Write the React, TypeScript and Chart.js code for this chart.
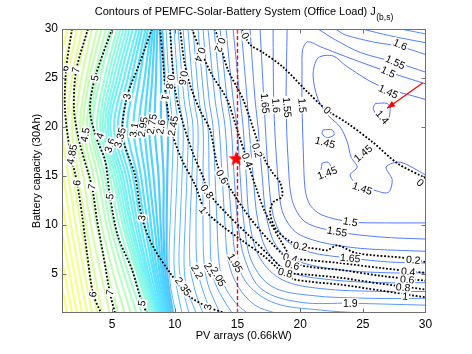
import React, { useEffect, useRef } from "react";
import { Chart, registerables } from "chart.js";

Chart.register(...registerables);

const FONT = '"Liberation Sans", Arial, Helvetica, sans-serif';

const TITLE_MAIN = "Contours of PEMFC-Solar-Battery System (Office Load) J";
const TITLE_SUB = "(b,s)";
const X_LABEL = "PV arrays (0.66kW)";
const Y_LABEL = "Battery capacity (30Ah)";

const X_MIN = 1;
const X_MAX = 30;
const Y_MIN = 1;
const Y_MAX = 30;
const X_TICKS = [5, 10, 15, 20, 25, 30];
const Y_TICKS = [5, 10, 15, 20, 25, 30];

// Dense J(b,s) contours on the left: x position of each level at the rows of ROW_Y
const ROW_Y = [30, 25, 20, 15, 10, 5, 1];
const DENSE_LEVELS = [5.6, 5.5, 5.4, 5.3, 5.2, 5.1, 5.0, 4.9, 4.8, 4.7, 4.6, 4.5, 4.4, 4.3, 4.2, 4.1, 4.0, 3.9, 3.8, 3.7, 3.6, 3.5, 3.4, 3.3, 3.2, 3.1, 3.0, 2.9, 2.8, 2.7, 2.6, 2.5];
const DENSE_X = [
  [-0.2, -1.0, -1.4, -0.9, -0.3, 0.4, 1.0],
  [0.2, -0.6, -1.0, -0.5, 0.1, 0.8, 1.4],
  [0.6, -0.2, -0.6, -0.1, 0.5, 1.2, 1.8],
  [1.0, 0.2, -0.2, 0.3, 0.9, 1.6, 2.2],
  [1.4, 0.6, 0.2, 0.7, 1.3, 2.0, 2.6],
  [1.8, 1.0, 0.6, 1.1, 1.7, 2.4, 3.0],
  [2.2, 1.4, 1.0, 1.5, 2.1, 2.8, 3.4],
  [2.6, 1.8, 1.4, 1.9, 2.5, 3.2, 3.8],
  [3.0, 2.2, 1.8, 2.3, 2.9, 3.6, 4.2],
  [3.4, 2.55, 2.1, 2.7, 3.3, 4.1, 4.8],
  [3.8, 2.95, 2.45, 3.15, 3.75, 4.65, 5.45],
  [4.15, 3.2, 2.7, 3.5, 4.15, 5.1, 6.0],
  [4.5, 3.55, 3.0, 3.85, 4.55, 5.55, 6.5],
  [4.8, 3.8, 3.25, 4.15, 4.85, 5.95, 6.95],
  [5.05, 4.05, 3.45, 4.4, 5.15, 6.3, 7.35],
  [5.4, 4.4, 3.8, 4.8, 5.55, 6.7, 7.8],
  [5.65, 4.65, 4.05, 5.05, 5.85, 7.0, 8.05],
  [5.9, 4.9, 4.25, 5.25, 6.05, 7.15, 8.17],
  [6.15, 5.15, 4.45, 5.45, 6.25, 7.3, 8.3],
  [6.4, 5.4, 4.65, 5.65, 6.45, 7.45, 8.4],
  [6.65, 5.65, 4.85, 5.85, 6.6, 7.6, 8.5],
  [6.95, 5.95, 5.15, 6.1, 6.85, 7.75, 8.6],
  [7.2, 6.25, 5.45, 6.35, 7.05, 7.9, 8.72],
  [7.4, 6.55, 5.8, 6.65, 7.3, 8.1, 8.85],
  [7.65, 6.9, 6.2, 7.0, 7.6, 8.3, 8.98],
  [7.85, 7.2, 6.7, 7.3, 7.85, 8.45, 9.12],
  [8.1, 7.6, 7.15, 7.65, 8.1, 8.62, 9.25],
  [8.25, 7.9, 7.6, 7.95, 8.38, 8.8, 9.36],
  [8.4, 8.2, 7.95, 8.3, 8.62, 8.96, 9.47],
  [8.6, 8.5, 8.4, 8.7, 8.87, 9.1, 9.58],
  [8.8, 8.9, 8.9, 9.1, 9.1, 9.25, 9.7],
  [9.0, 9.2, 9.45, 9.4, 9.35, 9.4, 9.85],
];

// Middle J(b,s) contours, [PV, battery] points
const MID_LEVELS = [2.45, 2.4, 2.35, 2.3, 2.25, 2.2, 2.15, 2.1, 2.05, 2.0, 1.95, 1.9, 1.85, 1.8, 1.75, 1.7];
const MID_LINES = [
  [[9.3, 30], [9.62, 22.8], [9.86, 20.0], [9.78, 15.1], [9.62, 10.0], [9.54, 5.9], [9.7, 3.4], [10.1, 1.0]],
  [[9.62, 30], [10.02, 22.8], [10.26, 20.0], [10.18, 15.1], [10.02, 10.0], [9.94, 5.9], [10.18, 3.4], [10.58, 1.0]],
  [[9.94, 30], [10.34, 22.8], [10.66, 20.0], [10.58, 15.1], [10.42, 10.0], [10.34, 5.9], [10.58, 3.7], [10.9, 2.1], [11.13, 1.0]],
  [[10.26, 30], [10.74, 22.8], [11.05, 20.0], [10.97, 15.1], [10.82, 10.0], [10.74, 5.9], [10.97, 3.4], [11.45, 1.8], [11.69, 1.0]],
  [[10.66, 30], [11.13, 22.8], [11.45, 20.0], [11.37, 15.1], [11.21, 10.0], [11.21, 5.9], [11.53, 3.7], [11.93, 2.0], [12.25, 1.0]],
  [[11.05, 30], [11.53, 22.8], [11.85, 20.0], [11.77, 15.1], [11.69, 10.0], [11.77, 5.9], [12.09, 3.9], [12.57, 2.1], [12.89, 1.0]],
  [[11.45, 30], [11.93, 22.8], [12.25, 20.0], [12.25, 15.1], [12.25, 10.0], [12.33, 6.2], [12.65, 3.9], [13.21, 2.1], [13.61, 1.0]],
  [[11.85, 30], [12.33, 22.8], [12.65, 20.0], [12.73, 15.1], [12.81, 10.0], [12.89, 6.2], [13.21, 4.1], [14.01, 2.1], [14.57, 1.0]],
  [[12.25, 30], [12.73, 22.8], [13.05, 20.0], [13.21, 15.1], [13.37, 10.0], [13.53, 6.2], [13.93, 3.9], [14.81, 2.1], [15.77, 1.0]],
  [[12.65, 30], [13.21, 22.8], [13.53, 20.0], [13.77, 15.1], [14.01, 10.0], [14.25, 6.4], [15.05, 3.7], [16.4, 1.8], [18.0, 1.0]],
  [[13.13, 30], [13.69, 22.8], [14.01, 20.0], [14.25, 15.1], [14.57, 10.0], [14.89, 6.6], [15.84, 3.9], [18.0, 2.0], [21.6, 1.3], [24.8, 1.0]],
  [[13.61, 30], [14.17, 22.8], [14.49, 20.0], [14.73, 15.1], [15.05, 10.0], [15.61, 6.4], [16.96, 3.4], [20.0, 2.1], [24.0, 2.0], [30, 1.8]],
  [[14.09, 30], [14.65, 22.8], [14.97, 20.0], [15.21, 15.1], [15.53, 10.0], [16.16, 6.2], [17.76, 3.7], [20.8, 2.8], [25.6, 2.5], [30, 2.5]],
  [[14.65, 30], [15.21, 22.8], [15.45, 20.0], [15.69, 15.1], [16.0, 10.0], [16.8, 6.6], [18.56, 4.4], [21.6, 3.5], [26.4, 3.2], [30, 3.2]],
  [[15.29, 30], [15.77, 22.8], [15.92, 20.0], [16.24, 15.1], [16.64, 10.3], [17.44, 7.2], [19.2, 5.2], [22.4, 4.4], [26.4, 4.1], [30, 4.1]],
  [[16.0, 30], [16.4, 22.8], [16.64, 20.0], [16.96, 15.1], [17.36, 10.5], [18.24, 7.6], [20.0, 6.2], [23.2, 5.4], [27.2, 5.1], [30, 5.1]],
];

// Low-J contours on the right
const RIGHT_LEVELS = [1.7, 1.65, 1.65, 1.6, 1.6, 1.55, 1.55, 1.5, 1.45, 1.45, 1.45, 1.4];
const RIGHT_LINES = [
  [[28.0, 30], [30, 29.5]],
  [[16.8, 30], [17.12, 22.4], [17.44, 15.6], [17.84, 11.0], [18.8, 8.5], [20.8, 7.2], [24.0, 6.6], [27.2, 6.2], [30, 6.1]],
  [[24.95, 30], [27.2, 29.3], [30, 28.6]],
  [[17.84, 30], [17.9, 22.2], [18.15, 16.1], [18.55, 11.5], [19.6, 9.3], [21.6, 8.25], [24.8, 7.6], [30, 7.3]],
  [[22.8, 30], [23.6, 29.4], [25.75, 28.7], [28.0, 28.2], [30, 27.4]],
  [[18.96, 30], [18.88, 22.2], [19.04, 16.6], [19.36, 12.5], [20.4, 10.3], [22.95, 9.3], [26.4, 8.76], [30, 8.55]],
  [[21.43, 30], [22.8, 28.9], [24.8, 27.6], [27.6, 26.6], [30, 25.6]],
  [[30, 24.4], [26.6, 25.8], [23.6, 27.2], [21.6, 28.2], [20.6, 28.7], [20.2, 27.9], [20.15, 25.8], [20.15, 22.2], [20.25, 17.6], [20.4, 13.6], [20.8, 12.0], [21.75, 11.0], [24.0, 10.3], [26.8, 10.2], [30, 10.2]],
  [[30, 22.8], [26.15, 24.3], [23.59, 26.3], [22.63, 27.25], [21.43, 27.05], [21.03, 25.3], [21.43, 22.8], [22.23, 21.2], [23.19, 20.0], [23.75, 18.5], [24.07, 16.9], [24.55, 15.9], [23.99, 15.1], [24.55, 14.1], [25.75, 13.6], [27.02, 13.3], [27.34, 14.6], [26.86, 15.9], [27.98, 16.4], [30, 15.1]],
  [[21.83, 19.7], [22.55, 19.7], [22.71, 19.2], [22.15, 18.9], [21.75, 19.3], [21.83, 19.7]],
  [[21.75, 16.3], [22.23, 16.4], [22.55, 15.6], [22.23, 14.8], [21.67, 15.1], [21.75, 16.3]],
  [[26.0, 22.4], [26.94, 22.4], [27.18, 21.9], [27.02, 20.7], [26.63, 20.4], [26.23, 20.9], [25.83, 21.9], [26.0, 22.4]],
];

// Dotted black contours of the second quantity
const DOT_LEVELS = ["6", "7", "5", "3", "1", "0.8", "0.6", "0.4", "0.2", "0"];
const DOT_LINES = [
  [[1.8, 30], [1.32, 25.8], [1.24, 21.7], [1.64, 17.6], [2.2, 14.3], [2.6, 11.0], [3.0, 7.1], [3.47, 3.0], [4.11, 1.0]],
  [[3.07, 30], [2.12, 25.7], [1.96, 21.7], [2.44, 18.2], [3.39, 13.9], [3.79, 10.5], [4.27, 7.1], [4.83, 3.0], [5.23, 1.0]],
  [[4.99, 30], [3.63, 25.0], [3.23, 21.7], [3.79, 18.7], [4.43, 16.6], [4.83, 12.9], [5.47, 8.8], [6.59, 5.4], [7.38, 2.0], [7.78, 1.0]],
  [[8.18, 30], [7.22, 26.6], [6.19, 23.1], [5.79, 19.2], [6.27, 17.1], [6.82, 15.1], [7.38, 10.7], [8.26, 7.8], [9.62, 5.1], [10.97, 2.9], [12.65, 1.6], [14.01, 1.0]],
  [[8.82, 30], [9.06, 26.8], [9.3, 23.0], [9.78, 19.4], [10.58, 16.6], [11.61, 14.1], [12.41, 11.5], [13.77, 9.9], [15.37, 8.4], [17.12, 6.8], [19.2, 4.6], [20.79, 4.2], [23.19, 3.9], [26.39, 3.3], [30, 2.6]],
  [[9.62, 30], [9.78, 26.8], [10.02, 23.8], [10.58, 20.7], [11.45, 17.3], [12.25, 14.9], [12.81, 13.1], [14.25, 11.0], [15.84, 9.0], [17.6, 6.8], [18.96, 5.2], [20.79, 4.9], [23.19, 4.6], [26.39, 4.0], [30, 3.4]],
  [[10.42, 30], [10.74, 26.8], [11.21, 24.3], [12.01, 21.7], [12.81, 19.7], [13.45, 15.9], [14.57, 13.4], [16.0, 10.7], [17.6, 8.3], [19.36, 6.2], [20.79, 5.7], [23.19, 5.4], [26.39, 4.8], [30, 4.3]],
  [[11.37, 30], [12.01, 27.9], [12.97, 25.3], [14.17, 22.8], [15.05, 19.4], [15.77, 16.6], [16.4, 14.1], [17.2, 11.3], [18.4, 8.5], [19.36, 6.7], [20.79, 6.4], [23.19, 6.1], [26.39, 5.6], [30, 5.1]],
  [[13.21, 30], [13.61, 28.4], [14.25, 25.8], [15.45, 22.8], [16.56, 18.7], [17.2, 16.6], [17.76, 15.4], [18.4, 14.3], [18.56, 12.9], [17.84, 12.3], [17.6, 11.3], [18.0, 9.7], [18.96, 8.5], [20.24, 7.8], [21.59, 7.5], [22.15, 7.4], [22.95, 7.9], [24.55, 7.1], [28.54, 6.6], [30, 6.2]],
  [[15.37, 30], [15.61, 29.3], [16.0, 28.4], [17.04, 27.6], [18.64, 26.1], [20.56, 23.6], [22.15, 21.7], [23.75, 20.4], [25.83, 18.4], [27.74, 16.3], [29.82, 14.9], [30, 14.8]],
];

// Inline labels: [text, PV, battery, rotation in degrees]
const THIN_LABELS: [string, number, number, number][] = [
  ["4.85", 1.8, 17.2, -80], ["4.5", 2.84, 19.2, -80], ["4", 4.03, 19.1, -70], ["3.6", 4.83, 18.1, -70],
  ["3.35", 5.63, 18.9, -75], ["3.1", 6.75, 19.7, -80], ["2.95", 7.46, 20.0, -80], ["2.75", 8.18, 20.3, -80],
  ["2.6", 8.9, 20.0, -80], ["2.45", 9.86, 20.1, -80],
  ["2.35", 10.66, 3.7, 55], ["2.2", 11.77, 5.2, 60], ["2.1", 12.81, 5.4, 60], ["2.05", 13.45, 4.7, 60], ["1.95", 14.81, 6.1, 60],
  ["1.65", 17.2, 22.4, 85], ["1.6", 18.08, 22.2, 85], ["1.55", 18.96, 22.0, 85], ["1.5", 20.16, 22.2, 85],
  ["1.6", 27.98, 28.4, 25], ["1.55", 27.58, 26.6, 25], ["1.5", 27.02, 25.6, 25], ["1.45", 27.02, 23.6, 25],
  ["1.4", 26.55, 21.0, 50], ["1.45", 21.99, 18.4, 15], ["1.45", 25.03, 17.3, -40], ["1.45", 22.15, 15.3, -20],
  ["1.45", 24.95, 13.7, 20], ["1.5", 24.0, 10.3, 10], ["1.55", 22.95, 9.3, 10], ["1.65", 24.0, 6.6, 5], ["1.9", 24.0, 2.0, 0],
];
const DOT_LABELS: [string, number, number, number][] = [
  ["6", 1.24, 26.0, -80], ["6", 2.2, 14.3, -80], ["6", 3.47, 2.9, -80],
  ["7", 2.12, 25.8, -80], ["7", 3.39, 13.9, -80], ["7", 4.83, 3.1, -80],
  ["5", 3.63, 25.0, -80], ["5", 4.83, 12.9, -80], ["5", 7.38, 2.0, -80],
  ["3", 6.19, 23.1, -80], ["3", 7.38, 10.7, -80], ["3", 12.65, 1.6, -80],
  ["1", 9.22, 23.0, 100], ["0.8", 9.62, 24.6, 100], ["0.6", 10.66, 25.0, 100], ["0.4", 12.01, 27.4, 110],
  ["0.2", 13.61, 28.4, 110], ["0", 15.61, 29.3, 60],
  ["0.2", 16.56, 17.6, 75], ["0.4", 15.77, 16.6, 70], ["0.6", 13.77, 14.9, 60], ["0.8", 12.57, 13.4, 55], ["1", 12.25, 11.5, 50],
  ["0.2", 20.0, 7.8, 10], ["0.4", 19.2, 6.6, 15], ["0.6", 19.36, 5.9, 15], ["0.8", 18.8, 5.1, 15],
  ["0.2", 29.02, 6.4, 5], ["0.4", 28.62, 5.2, 5], ["0.6", 28.54, 4.4, 5], ["0.8", 28.22, 3.6, 5], ["1", 28.38, 2.7, 5],
  ["0", 22.15, 21.7, 40], ["0", 29.58, 14.3, 40],
];

const SELECTED_PV = 15;
const OPTIMUM = [14.9, 16.8];
const ARROW_FROM = [29.8, 24.5];
const ARROW_TO = [26.94, 21.9];

// colour map for J levels (pale jet-like)
const CMAP: [number, number[]][] = [
  [1.4, [80, 112, 255]],
  [1.7, [85, 135, 255]],
  [2.0, [90, 160, 255]],
  [2.4, [85, 188, 255]],
  [2.8, [80, 212, 255]],
  [3.3, [95, 232, 255]],
  [3.8, [135, 248, 235]],
  [4.3, [180, 255, 200]],
  [4.8, [220, 255, 160]],
  [5.2, [248, 255, 135]],
  [5.6, [255, 252, 120]],
];
function levelColor(v: number): string {
  if (v <= CMAP[0][0]) return `rgb(${CMAP[0][1].join(",")})`;
  for (let i = 1; i < CMAP.length; i++) {
    if (v <= CMAP[i][0]) {
      const [a, ca] = CMAP[i - 1];
      const [b, cb] = CMAP[i];
      const t = (v - a) / (b - a);
      const c = ca.map((q, k) => Math.round(q + (cb[k] - q) * t));
      return `rgb(${c.join(",")})`;
    }
  }
  return `rgb(${CMAP[CMAP.length - 1][1].join(",")})`;
}

const toPts = (arr: number[][]) => arr.map(([x, y]) => ({ x, y }));

function makeStar(size: number, color: string) {
  const c = document.createElement("canvas");
  c.width = size;
  c.height = size;
  const g = c.getContext("2d")!;
  const cx = size / 2, cy = size / 2 + 0.7;
  const R = size / 2, r = R * 0.42;
  g.beginPath();
  for (let i = 0; i < 10; i++) {
    const ang = -Math.PI / 2 + (i * Math.PI) / 5;
    const rr = i % 2 === 0 ? R : r;
    const px = cx + rr * Math.cos(ang), py = cy + rr * Math.sin(ang);
    if (i === 0) g.moveTo(px, py); else g.lineTo(px, py);
  }
  g.closePath();
  g.fillStyle = color;
  g.fill();
  return c;
}

const overlayPlugin = {
  id: "overlay",
  afterDatasetsDraw(chart: any) {
    const { ctx, chartArea: a, scales } = chart;
    const sx = scales.x, sy = scales.y;
    ctx.save();
    ctx.beginPath();
    ctx.rect(a.left, a.top, a.right - a.left, a.bottom - a.top);
    ctx.clip();
    // arrow head
    const hx = sx.getPixelForValue(ARROW_TO[0]), hy = sy.getPixelForValue(ARROW_TO[1]);
    const tx = sx.getPixelForValue(ARROW_FROM[0]), ty = sy.getPixelForValue(ARROW_FROM[1]);
    const ang = Math.atan2(hy - ty, hx - tx);
    const len = 8, half = 3.2;
    ctx.fillStyle = "#ff0000";
    ctx.beginPath();
    ctx.moveTo(hx, hy);
    ctx.lineTo(hx - len * Math.cos(ang) + half * Math.sin(ang), hy - len * Math.sin(ang) - half * Math.cos(ang));
    ctx.lineTo(hx - len * Math.cos(ang) - half * Math.sin(ang), hy - len * Math.sin(ang) + half * Math.cos(ang));
    ctx.closePath();
    ctx.fill();
    // labels
    ctx.font = `10.5px ${FONT}`;
    ctx.textAlign = "center";
    ctx.textBaseline = "middle";
    for (const [t, vx, vy, rot] of [...THIN_LABELS, ...DOT_LABELS]) {
      const px = sx.getPixelForValue(vx), py = sy.getPixelForValue(vy);
      ctx.save();
      ctx.translate(px, py);
      ctx.rotate((rot * Math.PI) / 180);
      const w = ctx.measureText(t).width;
      ctx.fillStyle = "#ffffff";
      ctx.fillRect(-w / 2 - 1, -5, w + 2, 10);
      ctx.fillStyle = "#000000";
      ctx.fillText(t, 0, 0.5);
      ctx.restore();
    }
    ctx.restore();

    // axes box and inward ticks
    ctx.save();
    ctx.strokeStyle = "#707070";
    ctx.lineWidth = 1;
    const L = Math.round(a.left) + 0.5, R = Math.round(a.right) - 0.5;
    const T = Math.round(a.top) + 0.5, B = Math.round(a.bottom) - 0.5;
    ctx.strokeRect(L, T, R - L, B - T);
    ctx.beginPath();
    for (const v of X_TICKS) {
      const p = Math.round(sx.getPixelForValue(v)) + 0.5;
      if (p >= R - 1) continue;
      ctx.moveTo(p, B); ctx.lineTo(p, B - 4);
      ctx.moveTo(p, T); ctx.lineTo(p, T + 4);
    }
    for (const v of Y_TICKS) {
      const p = Math.round(sy.getPixelForValue(v)) + 0.5;
      if (p <= T + 1) continue;
      ctx.moveTo(L, p); ctx.lineTo(L + 4, p);
      ctx.moveTo(R, p); ctx.lineTo(R - 4, p);
    }
    ctx.stroke();
    ctx.restore();
  },
  afterDraw(chart: any) {
    const { ctx, chartArea: a } = chart;
    ctx.save();
    ctx.fillStyle = "#000";
    // title with subscript
    ctx.textBaseline = "alphabetic";
    ctx.textAlign = "left";
    ctx.font = `11px ${FONT}`;
    const wm = ctx.measureText(TITLE_MAIN).width;
    ctx.font = `8.5px ${FONT}`;
    const ws = ctx.measureText(TITLE_SUB).width;
    const cx = (a.left + a.right) / 2;
    const start = cx - (wm + ws) / 2;
    ctx.font = `11px ${FONT}`;
    ctx.fillText(TITLE_MAIN, start, 15);
    ctx.font = `8.5px ${FONT}`;
    ctx.fillText(TITLE_SUB, start + wm + 0.5, 19.5);
    // axis titles
    ctx.font = `11px ${FONT}`;
    ctx.textAlign = "center";
    ctx.textBaseline = "middle";
    ctx.fillText(X_LABEL, cx, 336);
    ctx.save();
    ctx.translate(37, (a.top + a.bottom) / 2);
    ctx.rotate(-Math.PI / 2);
    ctx.fillText(Y_LABEL, 0, 0);
    ctx.restore();
    ctx.restore();
  },
};

function lineDs(data: any[], color: string, width: number, order: number, dash?: number[], tension = 0.35) {
  return {
    data,
    showLine: true,
    borderColor: color,
    backgroundColor: color,
    borderWidth: width,
    borderDash: dash || [],
    pointRadius: 0,
    pointHoverRadius: 0,
    tension,
    clip: 0,
    order,
    fill: false,
  };
}

export default function App() {
  const ref = useRef<HTMLCanvasElement | null>(null);
  useEffect(() => {
    document.body.style.margin = "0";
    const canvas = ref.current!;
    const datasets: any[] = [];
    DENSE_LEVELS.forEach((lv, i) => {
      datasets.push(lineDs(ROW_Y.map((y, j) => ({ x: DENSE_X[i][j], y })), levelColor(lv), 2.2, 5));
    });
    MID_LEVELS.forEach((lv, i) => datasets.push(lineDs(toPts(MID_LINES[i]), levelColor(lv), 1, 5)));
    RIGHT_LEVELS.forEach((lv, i) => datasets.push(lineDs(toPts(RIGHT_LINES[i]), levelColor(lv), 1, 5, [], 0.3)));
    DOT_LEVELS.forEach((_, i) => datasets.push(lineDs(toPts(DOT_LINES[i]), "#000000", 1.8, 3, [1.8, 1.8], 0.3)));
    datasets.push(lineDs([{ x: SELECTED_PV, y: Y_MIN }, { x: SELECTED_PV, y: Y_MAX }], "#ff0000", 1.4, 2, [4, 2.5], 0));
    datasets.push(lineDs([{ x: ARROW_FROM[0], y: ARROW_FROM[1] }, { x: ARROW_TO[0], y: ARROW_TO[1] }], "#ff0000", 1.2, 1, [], 0));
    datasets.push({
      data: [{ x: OPTIMUM[0], y: OPTIMUM[1] }],
      showLine: false,
      pointStyle: makeStar(16, "#ff0000"),
      pointRadius: 8,
      clip: false,
      order: 0,
    });

    const chart = new Chart(canvas, {
      type: "scatter",
      data: { datasets },
      options: {
        animation: false,
        responsive: false,
        maintainAspectRatio: false,
        events: [],
        layout: { padding: { top: 29, right: 46.5, left: 0, bottom: 0 } },
        plugins: { legend: { display: false }, tooltip: { enabled: false }, title: { display: false } },
        scales: {
          x: {
            type: "linear",
            min: X_MIN,
            max: X_MAX,
            grid: { display: false, drawTicks: false },
            border: { display: false },
            ticks: { color: "#000", font: { family: FONT, size: 12 }, padding: 4, maxRotation: 0, autoSkip: false },
            afterBuildTicks: (s: any) => { s.ticks = X_TICKS.map((value) => ({ value })); },
            afterFit: (s: any) => { s.height = 41; },
          },
          y: {
            type: "linear",
            min: Y_MIN,
            max: Y_MAX,
            grid: { display: false, drawTicks: false },
            border: { display: false },
            ticks: { color: "#000", font: { family: FONT, size: 12 }, padding: 4, autoSkip: false },
            afterBuildTicks: (s: any) => { s.ticks = Y_TICKS.map((value) => ({ value })); },
            afterFit: (s: any) => { s.width = 62; },
          },
        },
      },
      plugins: [overlayPlugin],
    });
    return () => chart.destroy();
  }, []);
  return (
    <div style={{ width: 472, height: 354, background: "#fff" }}>
      <canvas ref={ref} width={472} height={354} style={{ display: "block" }} />
    </div>
  );
}
